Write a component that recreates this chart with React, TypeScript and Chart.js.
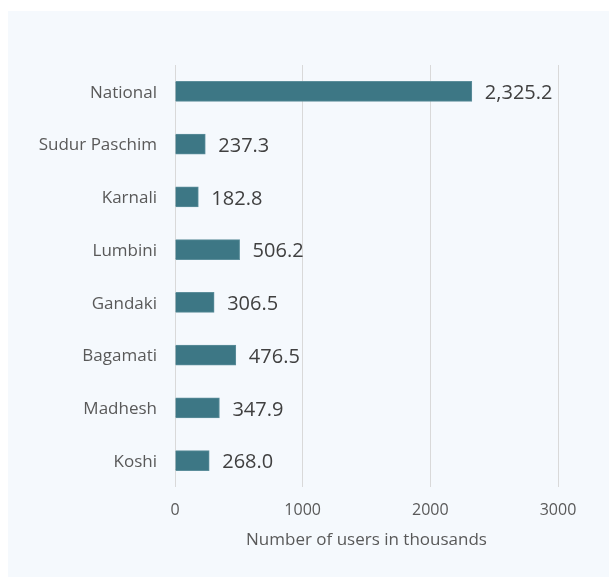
import React, { useEffect, useRef } from "react";
import { Chart, registerables } from "chart.js";

Chart.register(...registerables);

const categories = ["National", "Sudur Paschim", "Karnali", "Lumbini", "Gandaki", "Bagamati", "Madhesh", "Koshi"];
const users = [2325.2, 237.3, 182.8, 506.2, 306.5, 476.5, 347.9, 268.0];
const xTicks = [0, 1000, 2000, 3000];
const xTitle = "Number of users in thousands";

const labelFont = "'Open Sans', 'Noto Sans', sans-serif";

const valueLabels = {
  id: "valueLabels",
  afterDatasetsDraw(chart: any) {
    const ctx = chart.ctx;
    const meta = chart.getDatasetMeta(0);
    ctx.save();
    ctx.font = "20px 'Open Sans', sans-serif";
    ctx.fillStyle = "#404040";
    ctx.textAlign = "left";
    ctx.textBaseline = "middle";
    meta.data.forEach((bar: any, i: number) => {
      const v = users[i];
      const txt = v.toLocaleString("en-US", { minimumFractionDigits: 1, maximumFractionDigits: 1 });
      ctx.fillText(txt, bar.x + 13, bar.y + 2);
    });
    ctx.restore();
  },
};

export default function App() {
  const ref = useRef<HTMLCanvasElement>(null);
  useEffect(() => {
    if (!ref.current) return;
    const chart = new Chart(ref.current, {
      type: "bar",
      data: {
        labels: categories,
        datasets: [
          {
            data: users,
            backgroundColor: "#3D7785",
            borderColor: "#5C8E9B",
            borderWidth: 1,
            barThickness: 20,
          },
        ],
      },
      options: {
        indexAxis: "y",
        animation: false,
        responsive: false,
        maintainAspectRatio: false,
        layout: { padding: { top: 54, right: 51, left: 0, bottom: 27 } },
        plugins: { legend: { display: false }, tooltip: { enabled: false } },
        scales: {
          x: {
            min: 0,
            max: 3000,
            afterBuildTicks(scale: any) {
              scale.ticks = xTicks.map((v) => ({ value: v }));
            },
            afterFit(scale: any) {
              scale.height = 63;
            },
            grid: { color: "#D9D9D9", lineWidth: 1, drawTicks: false },
            border: { display: false },
            ticks: {
              color: "#595959",
              font: { family: labelFont, size: 16 },
              padding: 14,
              callback: (v: any) => String(v),
            },
            title: {
              display: true,
              text: xTitle,
              color: "#595959",
              font: { family: labelFont, size: 17 },
              padding: { top: 4, bottom: 0 },
            },
          },
          y: {
            afterFit(scale: any) {
              scale.width = 167;
            },
            grid: { display: false, drawTicks: false },
            border: { display: false },
            ticks: {
              color: "#595959",
              font: { family: labelFont, size: 17 },
              padding: 18,
              labelOffset: 1.5,
            },
          },
        },
      },
      plugins: [valueLabels],
    });
    return () => chart.destroy();
  }, []);
  return (
    <div
      style={{
        position: "fixed",
        left: 8,
        top: 11,
        width: 601,
        height: 566,
        background: "#F5F9FD",
      }}
    >
      <canvas ref={ref} width={601} height={566} style={{ display: "block" }} />
    </div>
  );
}
